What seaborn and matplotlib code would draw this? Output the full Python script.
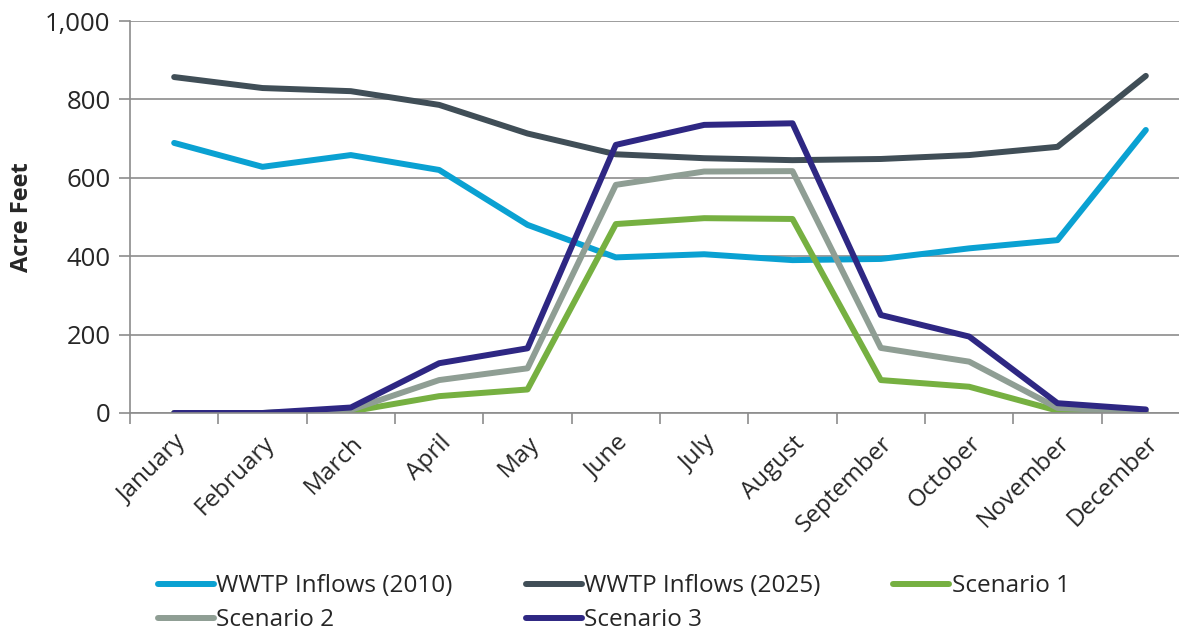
import numpy as np
import pandas as pd
import seaborn as sns
import matplotlib.pyplot as plt

# %%
months = ['January', 'February', 'March', 'April', 'May', 'June',
          'July', 'August', 'September', 'October', 'November', 'December']

wwtp_2010 = [689, 628, 658, 620, 480, 397, 405, 390, 393, 420, 441, 722]
wwtp_2025 = [857, 829, 821, 786, 713, 660, 650, 645, 648, 658, 679, 860]
scenario_1 = [0, 0, 4, 43, 60, 482, 497, 495, 84, 67, 6, 1]
scenario_2 = [0, 0, 8, 84, 114, 582, 616, 617, 166, 131, 13, 3]
scenario_3 = [0, 0, 14, 127, 165, 684, 735, 739, 250, 195, 25, 9]

series_names = ['WWTP Inflows (2010)', 'WWTP Inflows (2025)',
                'Scenario 1', 'Scenario 2', 'Scenario 3']
colors = ['#0AA1D2', '#404E57', '#76B041', '#8F9E94', '#2E2783']

# %%
frames = []
for name, vals in zip(series_names,
                      [wwtp_2010, wwtp_2025, scenario_1, scenario_2, scenario_3]):
    frames.append(pd.DataFrame({'month': np.arange(len(months)),
                                'value': vals, 'series': name}))
df = pd.concat(frames, ignore_index=True)

sns.set_style('white')
plt.rcParams['font.family'] = ['Open Sans', 'DejaVu Sans']

fig = plt.figure(figsize=(11.79, 6.36), dpi=100)
ax = fig.add_axes([130 / 1179, 1 - 413 / 636, 1060 / 1179, 392 / 636])

sns.lineplot(data=df, x='month', y='value', hue='series', hue_order=series_names,
             palette=colors, linewidth=4.3, sort=False, ax=ax, legend=False)

ax.set_xlim(-0.5, 11.5)
ax.set_ylim(0, 1000)
ax.set_yticks(range(0, 1001, 200))
ax.set_yticklabels([f'{v:,}' for v in range(0, 1001, 200)], fontsize=18.5)
ax.yaxis.grid(True, color='#8C8C8C', linewidth=1.2)
ax.set_axisbelow(True)

# ticks between categories, labels at category centres
ax.set_xticks(np.arange(-0.5, 12, 1))
ax.set_xticklabels([])
ax.set_xticks(np.arange(12), minor=True)
ax.set_xticklabels(months, minor=True, rotation=45, ha='right',
                   rotation_mode='anchor', fontsize=17.5)
ax.tick_params(axis='x', which='major', length=8, width=1.2, color='#8C8C8C',
               direction='out', bottom=True)
ax.tick_params(axis='x', which='minor', length=0, pad=13)
ax.tick_params(axis='y', length=8, width=1.2, color='#8C8C8C',
               direction='out', left=True, pad=6)

for side in ['top', 'right']:
    ax.spines[side].set_visible(False)
for side in ['left', 'bottom']:
    ax.spines[side].set_color('#8C8C8C')
    ax.spines[side].set_linewidth(1.2)

ax.set_xlabel('')
ax.set_ylabel('Acre Feet', fontsize=17, fontweight='bold', labelpad=8)

# legend, row-major order
handles = [plt.Line2D([], [], color=c, linewidth=4.3, solid_capstyle='round')
           for c in colors]
order = [0, 3, 1, 4, 2]
fig.legend([handles[i] for i in order], [series_names[i] for i in order],
           ncol=3, loc='lower left', bbox_to_anchor=(158 / 1179, 0.006),
           frameon=False, fontsize=17.5, handlelength=2.3, handletextpad=0.1,
           columnspacing=3.0, labelspacing=0.4, borderaxespad=0, borderpad=0)

fig.savefig('out.png', dpi=100)
